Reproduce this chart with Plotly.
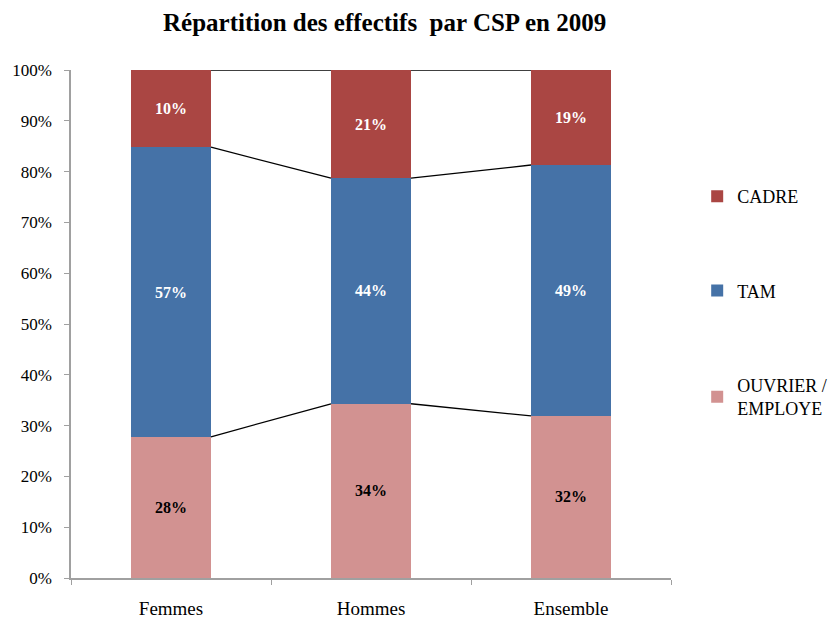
import plotly.graph_objects as go

categories = ["Femmes", "Hommes", "Ensemble"]
series_names = ["OUVRIER /<br>EMPLOYE", "TAM", "CADRE"]
ouvrier = [27.8, 34.3, 31.9]
tam = [57.0, 44.4, 49.4]
cadre = [15.2, 21.3, 18.7]
ouvrier_labels = ["28%", "34%", "32%"]
tam_labels = ["57%", "44%", "49%"]
cadre_labels = ["10%", "21%", "19%"]
colors = ["#D29291", "#4572A7", "#AA4643"]
text_colors = ["black", "white", "white"]
legend_ranks = [3, 2, 1]

FONT = "Liberation Serif"
BAR_W = 0.4

fig = go.Figure()
series_vals = [ouvrier, tam, cadre]
series_lbls = [ouvrier_labels, tam_labels, cadre_labels]
for i, (name, vals, lbls) in enumerate(zip(series_names, series_vals, series_lbls)):
    fig.add_trace(go.Bar(
        x=categories, y=vals, name=name, width=BAR_W,
        marker=dict(color=colors[i], line=dict(width=0)),
        text=lbls, textposition="inside", insidetextanchor="middle",
        textfont=dict(family=FONT, size=16, color=text_colors[i]),
        texttemplate="<b>%{text}</b>",
        legendgroup=f"g{legend_ranks[i]}", legendrank=legend_ranks[i],
    ))

# series lines connecting stack boundaries between adjacent bars
acc = [0.0] * len(categories)
cum = []
for vals in series_vals:
    acc = [a + v for a, v in zip(acc, vals)]
    cum.append(list(acc))
for levels in cum:
    for j in range(len(categories) - 1):
        fig.add_shape(type="line", xref="x", yref="y",
                      x0=j + BAR_W / 2, x1=j + 1 - BAR_W / 2,
                      y0=levels[j], y1=levels[j + 1],
                      line=dict(color="black", width=1.3))

fig.update_layout(
    barmode="stack",
    width=829, height=618,
    paper_bgcolor="white", plot_bgcolor="white",
    margin=dict(l=71, r=158, t=70, b=40),
    title=dict(text="<b>Répartition des effectifs  par CSP en 2009</b>",
               xref="container", x=0.464, xanchor="center", y=0.964, yanchor="middle",
               font=dict(family=FONT, size=25, color="black")),
    font=dict(family=FONT, size=17, color="black"),
    legend=dict(xref="container", yref="container",
                x=0.841, xanchor="left", y=0.712, yanchor="top",
                traceorder="grouped", tracegroupgap=68,
                font=dict(family=FONT, size=18, color="black"),
                itemwidth=30),
    showlegend=True,
)
fig.update_yaxes(range=[0, 100], dtick=10, ticksuffix="%", showgrid=False,
                 showline=True, linecolor="#A0A0A0", linewidth=1.5, automargin=False,
                 ticks="outside", ticklen=5, tickcolor="#A0A0A0", ticklabelstandoff=9,
                 tickfont=dict(family=FONT, size=17, color="black"), zeroline=False)
fig.update_xaxes(showgrid=False, showline=True, linecolor="#A0A0A0", linewidth=1.5,
                 automargin=False,
                 ticks="outside", ticklen=5, tickcolor="#A0A0A0", tickson="boundaries",
                 ticklabelstandoff=12,
                 tickfont=dict(family=FONT, size=19, color="black"))

post = ("document.body.style.margin='0';document.body.style.overflow='hidden';"
        "Plotly.relayout('{plot_id}', {width: 829, height: 618});")
fig.write_html("out.html", config={"responsive": False, "displayModeBar": False},
               post_script=post)
